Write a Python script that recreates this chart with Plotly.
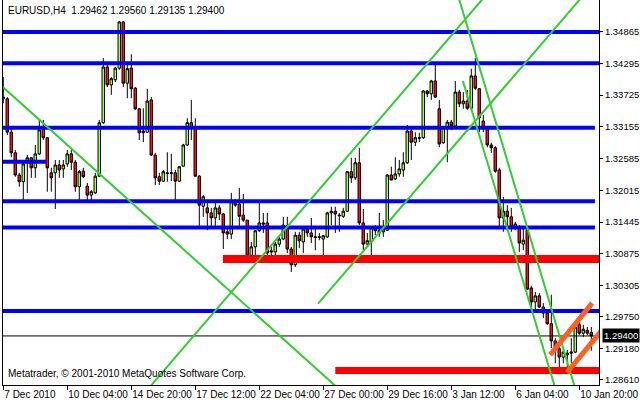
import plotly.graph_objects as go

# ---------------- data (EURUSD H4) ----------------
opens = [1.3366,1.3366,1.3306,1.3269,1.3229,1.3217,1.3251,1.3260,1.3242,1.3267,
         1.3312,1.3296,1.3233,1.3233,1.3247,1.3240,1.3249,1.3267,1.3252,1.3208,
         1.3236,1.3209,1.3193,1.3197,1.3227,1.3323,1.3423,1.3391,1.3400,1.3421,
         1.3504,1.3394,1.3421,1.3385,1.3348,1.3308,1.3306,1.3364,1.3265,1.3226,
         1.3218,1.3233,1.3232,1.3233,1.3218,1.3245,1.3283,1.3323,1.3314,1.3227,
         1.3173,1.3170,1.3161,1.3152,1.3170,1.3159,1.3127,1.3123,1.3181,1.3177,
         1.3157,1.3148,1.3085,1.3100,1.3129,1.3143,1.3143,1.3093,1.3091,1.3105,
         1.3114,1.3138,1.3096,1.3068,1.3121,1.3109,1.3132,1.3125,1.3118,1.3117,
         1.3114,1.3118,1.3161,1.3164,1.3157,1.3155,1.3164,1.3235,1.3224,1.3251,
         1.3143,1.3105,1.3109,1.3134,1.3130,1.3127,1.3130,1.3229,1.3222,1.3231,
         1.3238,1.3251,1.3308,1.3288,1.3295,1.3296,1.3380,1.3375,1.3398,1.3348,
         1.3287,1.3315,1.3324,1.3317,1.3378,1.3357,1.3362,1.3349,1.3407,1.3384,
         1.3326,1.3315,1.3283,1.3278,1.3238,1.3152,1.3164,1.3154,1.3136,1.3136,
         1.3105,1.3130,1.3026,1.3001,1.3012,1.2992,1.2981,1.2962,1.2931,1.2917,
         1.2902,1.2906,1.2909,1.2911,1.2960,1.2945,1.2950,1.29462]
highs = [1.3405,1.3369,1.3315,1.3274,1.3233,1.3256,1.3265,1.3261,1.3283,1.3328,
         1.3328,1.3297,1.3242,1.3256,1.3256,1.3256,1.3274,1.3274,1.3256,1.3238,
         1.3242,1.3215,1.3202,1.3233,1.3328,1.3439,1.3430,1.3405,1.3423,1.3506,
         1.3506,1.3432,1.3446,1.3387,1.3349,1.3349,1.3384,1.3369,1.3269,1.3233,
         1.3238,1.3270,1.3267,1.3238,1.3244,1.3285,1.3331,1.3364,1.3331,1.3229,
         1.3193,1.3179,1.3170,1.3184,1.3175,1.3161,1.3134,1.3197,1.3186,1.3206,
         1.3195,1.3148,1.3109,1.3130,1.3184,1.3161,1.3161,1.3100,1.3109,1.3118,
         1.3154,1.3154,1.3100,1.3127,1.3127,1.3136,1.3136,1.3152,1.3134,1.3125,
         1.3121,1.3163,1.3172,1.3172,1.3161,1.3170,1.3235,1.3260,1.3260,1.3278,
         1.3168,1.3125,1.3136,1.3139,1.3161,1.3148,1.3231,1.3244,1.3261,1.3256,
         1.3270,1.3319,1.3317,1.3306,1.3305,1.3382,1.3382,1.3400,1.3430,1.3364,
         1.3315,1.3328,1.3328,1.3398,1.3382,1.3378,1.3382,1.3420,1.3439,1.3385,
         1.3337,1.3317,1.3287,1.3281,1.3242,1.3190,1.3175,1.3170,1.3145,1.3139,
         1.3134,1.3134,1.3030,1.3019,1.3017,1.2999,1.2987,1.3014,1.2936,1.2920,
         1.2918,1.2915,1.2936,1.2963,1.2972,1.2960,1.2956,1.29560]
lows = [1.3358,1.3301,1.3261,1.3226,1.3208,1.3181,1.3197,1.3224,1.3224,1.3265,
        1.3292,1.3199,1.3199,1.3168,1.3224,1.3224,1.3244,1.3238,1.3199,1.3181,
        1.3224,1.3184,1.3184,1.3195,1.3226,1.3321,1.3387,1.3373,1.3396,1.3418,
        1.3387,1.3367,1.3367,1.3346,1.3292,1.3288,1.3305,1.3263,1.3211,1.3211,
        1.3217,1.3217,1.3218,1.3182,1.3217,1.3244,1.3281,1.3292,1.3226,1.3136,
        1.3154,1.3130,1.3136,1.3136,1.3148,1.3096,1.3114,1.3114,1.3172,1.3136,
        1.3145,1.3076,1.3076,1.3082,1.3127,1.3125,1.3082,1.3080,1.3082,1.3100,
        1.3112,1.3089,1.3055,1.3064,1.3098,1.3089,1.3118,1.3107,1.3094,1.3112,
        1.3073,1.3116,1.3139,1.3125,1.3127,1.3152,1.3163,1.3215,1.3220,1.3139,
        1.3094,1.3103,1.3085,1.3121,1.3118,1.3118,1.3129,1.3220,1.3220,1.3226,
        1.3226,1.3249,1.3256,1.3281,1.3288,1.3294,1.3369,1.3364,1.3367,1.3279,
        1.3285,1.3252,1.3310,1.3315,1.3351,1.3348,1.3346,1.3346,1.3382,1.3306,
        1.3306,1.3279,1.3269,1.3233,1.3136,1.3127,1.3136,1.3127,1.3130,1.3091,
        1.3094,1.3023,1.2992,1.2987,1.2990,1.2972,1.2960,1.2918,1.2891,1.2884,
        1.2891,1.2879,1.2891,1.2909,1.2942,1.2938,1.2942,1.29135]
closes = [1.3369,1.3306,1.3269,1.3229,1.3217,1.3249,1.3260,1.3242,1.3267,1.3310,
          1.3296,1.3242,1.3224,1.3247,1.3238,1.3247,1.3267,1.3252,1.3208,1.3235,
          1.3226,1.3193,1.3199,1.3227,1.3323,1.3423,1.3391,1.3402,1.3421,1.3504,
          1.3394,1.3420,1.3384,1.3348,1.3305,1.3305,1.3362,1.3265,1.3224,1.3218,
          1.3235,1.3232,1.3233,1.3218,1.3244,1.3283,1.3323,1.3314,1.3227,1.3175,
          1.3190,1.3161,1.3152,1.3170,1.3159,1.3125,1.3123,1.3181,1.3175,1.3155,
          1.3148,1.3085,1.3100,1.3129,1.3143,1.3141,1.3089,1.3091,1.3105,1.3114,
          1.3139,1.3096,1.3068,1.3121,1.3111,1.3132,1.3125,1.3118,1.3117,1.3118,
          1.3120,1.3161,1.3164,1.3159,1.3156,1.3164,1.3235,1.3224,1.3251,1.3143,
          1.3105,1.3111,1.3136,1.3129,1.3125,1.3132,1.3229,1.3220,1.3231,1.3240,
          1.3251,1.3308,1.3288,1.3296,1.3296,1.3380,1.3375,1.3398,1.3369,1.3285,
          1.3315,1.3324,1.3317,1.3378,1.3357,1.3362,1.3349,1.3407,1.3385,1.3332,
          1.3315,1.3283,1.3278,1.3236,1.3152,1.3164,1.3154,1.3136,1.3141,1.3107,
          1.3112,1.3024,1.3001,1.3012,1.2992,1.2981,1.2962,1.2931,1.2920,1.2902,
          1.2911,1.2909,1.2911,1.2956,1.2945,1.2952,1.2945,1.29400]

# time axis labels (every 16 H4 bars)
tick_bars = [0, 16, 32, 48, 64, 80, 96, 112, 128, 144]
tick_labels = ["7 Dec 2010", "10 Dec 04:00", "14 Dec 20:00", "17 Dec 12:00",
               "22 Dec 04:00", "27 Dec 00:00", "29 Dec 16:00", "3 Jan 12:00",
               "6 Jan 04:00", "10 Jan 20:00"]
price_ticks = [1.34865, 1.34295, 1.33725, 1.33155, 1.32585, 1.32015,
               1.31445, 1.30875, 1.30305, 1.29750, 1.29180, 1.28610]

# horizontal levels: (price, first bar, last bar)
blue_levels = [(1.3486, -1, 150), (1.3430, -1, 150), (1.3314, -1, 147.9),
               (1.3253, -1, 10.7), (1.3182, -1, 147.9), (1.3135, -1, 147.9),
               (1.2985, -1, 150)]
red_levels = [(1.3078, 54.9, 150, 8), (1.2878, 83.0, 150, 7)]
bid_price = 1.29400

# trend lines: ((bar, price), (bar, price))
green_lines = [((-1, 1.3393), (84, 1.2844)),
               ((36, 1.2843), (121, 1.3555)),
               ((78.7, 1.2998), (146, 1.3560)),
               ((113.5, 1.3556), (143.5, 1.2833)),
               ((114.9, 1.3398), (138.5, 1.2834))]
orange_lines = [((136.7, 1.2906), (147.2, 1.2999)),
                ((140.9, 1.2874), (149.5, 1.2949))]

title_text = "EURUSD,H4  1.29462 1.29560 1.29135 1.29400"
copyright_text = "Metatrader, \u00a9 2001-2010 MetaQuotes Software Corp."

FONT = "Liberation Sans, Arial, sans-serif"
FS = 10
FS_Y = 9.5

fig = go.Figure()

for price, b0, b1 in blue_levels:
    fig.add_trace(go.Scatter(x=[b0, b1], y=[price, price], mode="lines",
                             line=dict(color="#0000FF", width=4),
                             showlegend=False, hoverinfo="skip"))
for price, b0, b1, w in red_levels:
    fig.add_trace(go.Scatter(x=[b0, b1], y=[price, price], mode="lines",
                             line=dict(color="#FF0000", width=w),
                             showlegend=False, hoverinfo="skip"))
fig.add_trace(go.Scatter(x=[-1, 150], y=[bid_price, bid_price], mode="lines",
                         line=dict(color="black", width=1),
                         showlegend=False, hoverinfo="skip"))
for (a, b) in green_lines:
    fig.add_trace(go.Scatter(x=[a[0], b[0]], y=[a[1], b[1]], mode="lines",
                             line=dict(color="#32CD32", width=2),
                             showlegend=False, hoverinfo="skip"))
for (a, b) in orange_lines:
    fig.add_trace(go.Scatter(x=[a[0], b[0]], y=[a[1], b[1]], mode="lines",
                             line=dict(color="#FF6020", width=5),
                             showlegend=False, hoverinfo="skip"))

bars = list(range(len(opens)))
fig.add_trace(go.Candlestick(
    x=bars, open=opens, high=highs, low=lows, close=closes,
    increasing=dict(line=dict(color="black", width=1), fillcolor="#ADFF2F"),
    decreasing=dict(line=dict(color="black", width=1), fillcolor="#FF1010"),
    whiskerwidth=0, showlegend=False))

fig.update_layout(
    width=640, height=400,
    margin=dict(l=3, r=41, t=0, b=15, autoexpand=False),
    paper_bgcolor="white", plot_bgcolor="white",
    font=dict(family=FONT, size=FS, color="black"),
    showlegend=False,
    boxgap=0.1,
    xaxis=dict(range=[-0.075, 148.925], showgrid=False, zeroline=False,
               rangeslider=dict(visible=False), automargin=False,
               showline=True, linecolor="black", linewidth=1, mirror=False,
               ticks="outside", ticklen=4, tickcolor="black", tickangle=0,
               tickvals=tick_bars, ticktext=tick_labels,
               ticklabelposition="outside right",
               tickfont=dict(family=FONT, size=FS, color="black")),
    yaxis=dict(range=[1.28519, 1.35434], side="right", showgrid=False,
               zeroline=False, showline=True, linecolor="black", linewidth=1,
               mirror=True, ticks="outside", ticklen=3, tickcolor="black",
               automargin=False,
               tickvals=price_ticks, ticktext=[f"{v:.5f}" for v in price_ticks],
               tickfont=dict(family=FONT, size=FS_Y, color="black")),
)

fig.add_annotation(text=title_text, xref="paper", yref="paper",
                   x=0.005, y=0.974, xanchor="left", yanchor="middle",
                   showarrow=False, font=dict(family=FONT, size=FS, color="black"))
fig.add_annotation(text=copyright_text, xref="paper", yref="paper",
                   x=0.005, y=0.03, xanchor="left", yanchor="middle",
                   showarrow=False, font=dict(family=FONT, size=FS, color="black"))
fig.add_annotation(text=f"{bid_price:.5f}", xref="paper", yref="y",
                   x=1.005, y=bid_price, xanchor="left", yanchor="middle",
                   showarrow=False, bgcolor="black", borderpad=1,
                   font=dict(family=FONT, size=FS_Y, color="white"))

fig.write_html("out.html", config={"displayModeBar": False},
               post_script="document.body.style.margin='0';document.body.style.padding='0';")
